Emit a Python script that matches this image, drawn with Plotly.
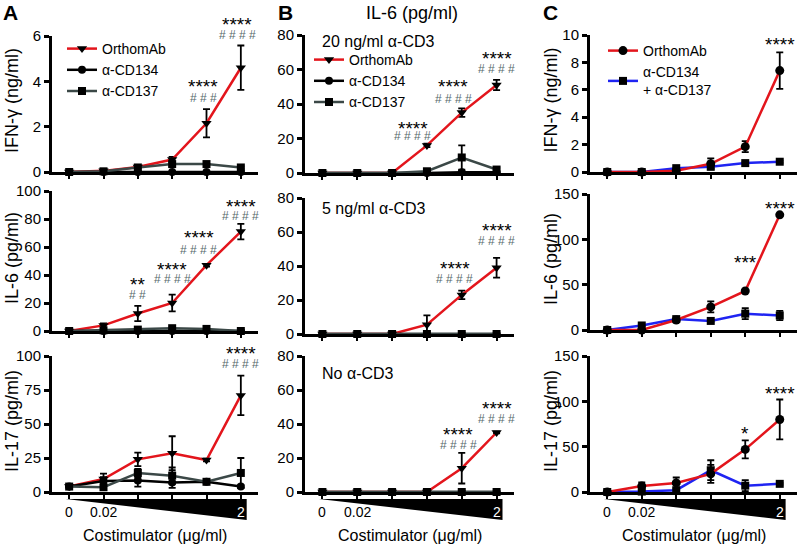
import plotly.graph_objects as go

W, H = 798, 549
FONT = "Liberation Sans, Arial, Helvetica, sans-serif"

# ---------------- data ----------------
dose_pos = [0, 1, 2, 3, 4, 5]
dose_tick_labels = ["0", "0.02", "2"]
dose_tick_pos = [0, 1, 5]

# Panel A: IFN-γ (ng/ml)
A_ifng_orth = [0, 0.05, 0.22, 0.55, 2.15, 4.6]
A_ifng_orth_err = [0, 0.02, 0.05, 0.12, 0.62, 0.98]
A_ifng_cd134 = [0, 0, 0, 0, 0, 0]
A_ifng_cd134_err = [0, 0, 0, 0, 0, 0]
A_ifng_cd137 = [0, 0.03, 0.2, 0.35, 0.35, 0.2]
A_ifng_cd137_err = [0, 0.02, 0.05, 0.1, 0.06, 0.05]
# Panel A: IL-6 (pg/ml)
A_il6_orth = [0, 4, 12.5, 20, 47, 71]
A_il6_orth_err = [0, 1.5, 5.5, 6, 1, 5.5]
A_il6_cd134 = [0, 0, 0, 0, 0, 0]
A_il6_cd134_err = [0, 0, 0, 0, 0, 0]
A_il6_cd137 = [0, 0.5, 1, 2, 1.5, 0]
A_il6_cd137_err = [0, 0.3, 0.5, 0.8, 0.6, 0.2]
# Panel A: IL-17 (pg/ml)
A_il17_orth = [4, 9.5, 24, 28.5, 23.5, 71]
A_il17_orth_err = [0.5, 4, 5, 12.5, 1, 14.5]
A_il17_cd134 = [4, 8, 8.5, 7, 7.5, 4]
A_il17_cd134_err = [0.5, 3, 4.5, 4, 1, 1]
A_il17_cd137 = [4, 3.5, 14, 12, 7.5, 14]
A_il17_cd137_err = [0.5, 2, 3, 6, 1, 11]

# Panel B: IL-6 (pg/ml) at three α-CD3 doses
B20_orth = [0, 0, 0, 16, 35, 51]
B20_orth_err = [0, 0, 0, 1, 2.5, 3]
B20_cd134 = [0, 0, 0, 0, 0.5, 0.5]
B20_cd134_err = [0, 0, 0, 0, 0, 0]
B20_cd137 = [0, 0, 0, 1, 9, 2]
B20_cd137_err = [0, 0, 0, 0.5, 7, 1]
B5_orth = [0, 0, 0, 5.5, 23, 39]
B5_orth_err = [0, 0, 0, 5.5, 2.5, 5.8]
B5_cd134 = [0, 0, 0, 0, 0, 0]
B5_cd134_err = [0, 0, 0, 0, 0, 0]
B5_cd137 = [0, 0, 0, 0, 0, 0]
B5_cd137_err = [0, 0, 0, 0, 0, 0]
B0_orth = [0, 0, 0, 0, 14, 35]
B0_orth_err = [0, 0, 0, 0, 9, 0.5]
B0_cd134 = [0, 0, 0, 0, 0, 0]
B0_cd134_err = [0, 0, 0, 0, 0, 0]
B0_cd137 = [0, 0, 0, 0, 0, 0]
B0_cd137_err = [0, 0, 0, 0, 0, 0]

# Panel C
C_ifng_orth = [0, 0, 0.1, 0.6, 1.85, 7.4]
C_ifng_orth_err = [0, 0, 0.05, 0.4, 0.4, 1.33]
C_ifng_combo = [0, 0, 0.28, 0.38, 0.65, 0.75]
C_ifng_combo_err = [0, 0, 0.05, 0.1, 0.1, 0.08]
C_il6_orth = [0, 0, 11, 25.5, 43, 127]
C_il6_orth_err = [0, 0, 1, 6, 1, 1]
C_il6_combo = [0, 5, 12, 10, 18, 16]
C_il6_combo_err = [0, 1, 2, 1, 6, 5]
C_il17_orth = [0, 6.5, 10, 20, 47, 80]
C_il17_orth_err = [0, 4, 6, 10, 10, 22]
C_il17_combo = [0, 0.5, 2, 24, 7, 9]
C_il17_combo_err = [0, 1, 1, 11, 6, 1]

RED = "#e3151c"
BLACK = "#000000"
SLATE = "#3b4847"
BLUE = "#1f24f2"
HASH = "#56696b"

fig = go.Figure()

# panel geometry (pixels)
cols = {"A": (52, 258), "B": (305, 514), "C": (590, 797)}
panels = [
    # n, col, (top,bottom), ymax, dtick
    (1, "A", (36, 172), 6, 2),
    (2, "A", (191, 331), 100, 20),
    (3, "A", (356, 492), 100, 25),
    (4, "B", (35, 173), 80, 20),
    (5, "B", (198, 334), 80, 20),
    (6, "B", (356, 492), 80, 20),
    (7, "C", (35, 172), 10, 2),
    (8, "C", (194, 330), 150, 50),
    (9, "C", (356, 492), 150, 50),
]


def ax(n, letter):
    return letter if n == 1 else f"{letter}{n}"


for n, col, (top, bot), ymax, dt in panels:
    xd = cols[col]
    fig.layout[ax(n, "xaxis")] = dict(
        domain=[xd[0] / W, xd[1] / W], range=[-0.5, 5.5], anchor=ax(n, "y"),
        showline=True, linewidth=3, linecolor="black", ticks="outside", ticklen=4,
        tickwidth=2, tickcolor="black", tickvals=dose_pos, showticklabels=False,
        showgrid=False, zeroline=False, fixedrange=True, automargin=False)
    fig.layout[ax(n, "yaxis")] = dict(
        domain=[1 - bot / H, 1 - top / H], range=[0, ymax], anchor=ax(n, "x"),
        showline=True, linewidth=3, linecolor="black", ticks="outside", ticklen=5,
        tickwidth=3, tickcolor="black", tickmode="linear", tick0=0, dtick=dt,
        tickfont=dict(size=15, family=FONT, color="black"),
        showgrid=False, zeroline=False, fixedrange=True, automargin=False)


def add(n, y, err, name, color, symbol, legend=None, size=8, group=None):
    fig.add_trace(go.Scatter(
        x=dose_pos, y=y, xaxis=ax(n, "x"), yaxis=ax(n, "y"), mode="lines+markers",
        name=name, line=dict(color=color, width=2.5),
        marker=dict(symbol=symbol, color="black", size=size),
        error_y=dict(type="data", array=err, color="black", thickness=1.8, width=3.5, visible=True),
        cliponaxis=False, showlegend=legend is not None, legend=legend or "legend",
        legendgroup=group, hoverinfo="skip"))


# Panel A
for n, (o, oe, c4, c4e, c7, c7e) in zip([1, 2, 3], [
        (A_ifng_orth, A_ifng_orth_err, A_ifng_cd134, A_ifng_cd134_err, A_ifng_cd137, A_ifng_cd137_err),
        (A_il6_orth, A_il6_orth_err, A_il6_cd134, A_il6_cd134_err, A_il6_cd137, A_il6_cd137_err),
        (A_il17_orth, A_il17_orth_err, A_il17_cd134, A_il17_cd134_err, A_il17_cd137, A_il17_cd137_err)]):
    lg = "legend" if n == 1 else None
    add(n, o, oe, "OrthomAb", RED, "triangle-down", lg, 9)
    add(n, c4, c4e, "α-CD134", BLACK, "circle", lg, 8)
    add(n, c7, c7e, "α-CD137", SLATE, "square", lg, 8)

# Panel B
for n, (o, oe, c4, c4e, c7, c7e) in zip([4, 5, 6], [
        (B20_orth, B20_orth_err, B20_cd134, B20_cd134_err, B20_cd137, B20_cd137_err),
        (B5_orth, B5_orth_err, B5_cd134, B5_cd134_err, B5_cd137, B5_cd137_err),
        (B0_orth, B0_orth_err, B0_cd134, B0_cd134_err, B0_cd137, B0_cd137_err)]):
    lg = "legend2" if n == 4 else None
    add(n, o, oe, "OrthomAb", RED, "triangle-down", lg, 9)
    add(n, c4, c4e, "α-CD134", BLACK, "circle", lg, 8)
    add(n, c7, c7e, "α-CD137", SLATE, "square", lg, 8)

# Panel C
for n, (o, oe, cb, cbe) in zip([7, 8, 9], [
        (C_ifng_orth, C_ifng_orth_err, C_ifng_combo, C_ifng_combo_err),
        (C_il6_orth, C_il6_orth_err, C_il6_combo, C_il6_combo_err),
        (C_il17_orth, C_il17_orth_err, C_il17_combo, C_il17_combo_err)]):
    lg = "legend3" if n == 7 else None
    add(n, cb, cbe, "α-CD134<br>+ α-CD137", BLUE, "square", lg, 8, group="g2")
    add(n, o, oe, "OrthomAb", RED, "circle", lg, 9, group="g1")

legend_common = dict(bgcolor="rgba(0,0,0,0)", borderwidth=0, xanchor="left", yanchor="top",
                     font=dict(size=14, family=FONT, color="black"), itemwidth=30)
fig.update_layout(
    legend=dict(x=62 / W, y=1 - 33 / H, **legend_common),
    legend2=dict(x=309 / W, y=1 - 44 / H, **legend_common),
    legend3=dict(x=603 / W, y=1 - 35 / H, traceorder="reversed", tracegroupgap=6, **legend_common),
)

ann = []


def text(x, y, s, size, xref="paper", color="black", angle=0, xanchor="center", yanchor="middle", bold=False):
    ann.append(dict(x=x, y=y, xref=xref, yref="paper", text=f"<b>{s}</b>" if bold else s,
                    showarrow=False, textangle=angle, xanchor=xanchor, yanchor=yanchor,
                    font=dict(size=size, family=FONT, color=color)))


# panel letters
for s, px in [("A", 10), ("B", 285), ("C", 550)]:
    text(px / W, 1 - 13 / H, s, 21, bold=True)
text(412 / W, 1 - 13 / H, "IL-6 (pg/ml)", 18)

# y titles
ytitles = ["IFN-γ (ng/ml)", "IL-6 (pg/ml)", "IL-17 (pg/ml)"]
for (n, col, (top, bot), _, _), t in zip(panels[:3], ytitles):
    text(12 / W, 1 - ((top + bot) / 2 - 3) / H, t, 18, angle=-90)
for (n, col, (top, bot), _, _), t in zip(panels[6:], ytitles):
    text(551 / W, 1 - ((top + bot) / 2 - 3) / H, t, 18, angle=-90)

# B condition labels
for s, py in [("20 ng/ml α-CD3", 42), ("5 ng/ml α-CD3", 208), ("No α-CD3", 373)]:
    text(320 / W, 1 - py / H, s, 16, xanchor="left")

# significance marks: (axis n, x position, text, visual centre pixel y)
stars = [
    (1, 3.9, "****", 80), (1, 4.9, "****", 19),
    (2, 2, "**", 278), (2, 3, "****", 263), (2, 3.78, "****", 232), (2, 5, "****", 200),
    (3, 5, "****", 347),
    (4, 2.6, "****", 122), (4, 3.75, "****", 81), (4, 5, "****", 53),
    (5, 3.8, "****", 262), (5, 5, "****", 224),
    (6, 3.9, "****", 428), (6, 5, "****", 402),
    (7, 5, "****", 39), (8, 4, "***", 256), (8, 5, "****", 202),
    (9, 4, "*", 427), (9, 5, "****", 388),
]
hashes = [
    (1, 3.9, "# # #", 97), (1, 4.9, "# # # #", 34),
    (2, 2, "# #", 294), (2, 3, "# # # #", 278), (2, 3.78, "# # # #", 249), (2, 5, "# # # #", 215),
    (3, 5, "# # # #", 363),
    (4, 2.6, "# # # #", 135), (4, 3.75, "# # # #", 98), (4, 5, "# # # #", 68),
    (5, 3.8, "# # # #", 278), (5, 5, "# # # #", 240),
    (6, 3.9, "# # # #", 444), (6, 5, "# # # #", 418),
]
for n, xp, s, py in stars:
    text(xp, 1 - (py + 6) / H, s, 19, xref=ax(n, "x"))
for n, xp, s, py in hashes:
    text(xp, 1 - (py + 1) / H, s, 12, xref=ax(n, "x"), color=HASH)

# dose wedge + labels under bottom row
shapes = []
for n, col in [(3, "A"), (6, "B"), (9, "C")]:
    xr = ax(n, "x")
    shapes.append(dict(type="path", xref=xr, yref="paper",
                       path=f"M -0.1,{1 - 499 / H} L 5.17,{1 - 499 / H} L 5.17,{1 - 520 / H} Z",
                       fillcolor="black", line=dict(width=0)))
    for lab, p in zip(dose_tick_labels, dose_tick_pos):
        text(p, 1 - 512 / H, lab, 14, xref=xr, color="white" if lab == "2" else "black")
    text(2.5, 1 - 535 / H, "Costimulator (μg/ml)", 16, xref=xr)

fig.update_layout(
    template="none",
    width=W, height=H, margin=dict(l=0, r=0, t=0, b=0, autoexpand=False),
    paper_bgcolor="white", plot_bgcolor="white",
    font=dict(family=FONT, color="black"),
    annotations=ann, shapes=shapes,
)
fig.write_html("out.html", config={"displayModeBar": False},
               post_script="document.body.style.margin='0px';document.body.style.overflow='hidden';")
